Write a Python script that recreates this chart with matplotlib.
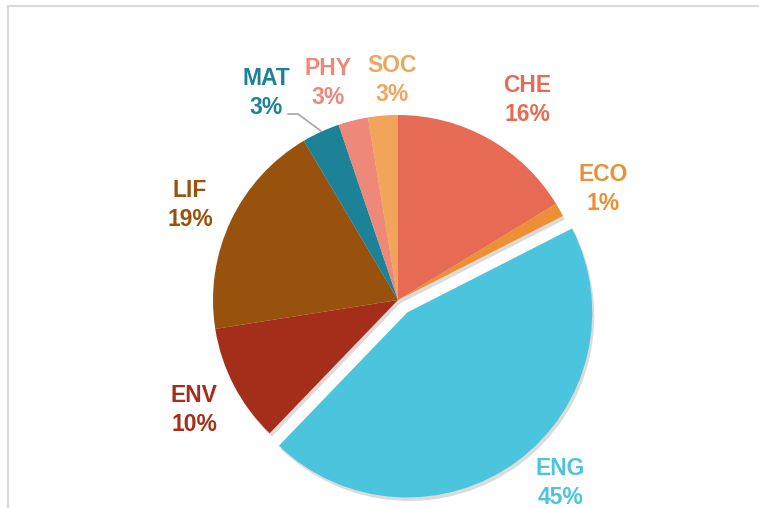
import matplotlib.pyplot as plt
import matplotlib.patheffects as pe
from matplotlib.patches import Wedge
from matplotlib.lines import Line2D

# Share of items per subject area (%)
subjects = ['CHE', 'ECO', 'ENG', 'ENV', 'LIF', 'MAT', 'PHY', 'SOC']
shares = [16.3, 1.2, 44.7, 10.3, 19.0, 3.3, 2.6, 2.6]
colors = ['#E76B54', '#ED8F34', '#4BC5DD', '#A52E1A', '#99520E', '#1C8298', '#EE8878', '#F2A45A']

W, H = 759, 508
fig = plt.figure(figsize=(W / 100, H / 100), dpi=100)
ax = fig.add_axes([0, 0, 1, 1])

cx, cy, r = 398, H - 300, 185
explode = [15.5 if s == 'ENG' else 0 for s in subjects]

wedges, _ = ax.pie(shares, colors=colors, startangle=90, counterclock=False,
                   center=(cx, cy), radius=r, explode=explode, frame=True,
                   wedgeprops=dict(linewidth=0, zorder=2))
ax.set_xlim(0, W)
ax.set_ylim(0, H)
ax.set_aspect('equal')
ax.axis('off')

# soft shadow drawn underneath all wedges
for w in wedges:
    sh = Wedge(w.center, w.r, w.theta1, w.theta2, facecolor='none', edgecolor='none', zorder=1)
    sh.set_path_effects([pe.SimplePatchShadow(offset=(1.5, -2.5), shadow_rgbFace='#7F7F7F', alpha=0.28)])
    ax.add_patch(sh)

# label positions in pixels (x, y from top) - layout only
label_pos = {
    'CHE': (527, 100), 'ECO': (603, 189), 'ENG': (560, 483), 'ENV': (194, 410),
    'LIF': (190, 205), 'MAT': (266, 93), 'PHY': (328, 83), 'SOC': (392, 80),
}
total = sum(shares)
for s, v, c in zip(subjects, shares, colors):
    x, y = label_pos[s]
    ax.text(x, H - y, f'{s}\n{round(v / total * 100):.0f}%', color=c, ha='center', va='center',
            fontsize=16.5, fontweight='bold', family='Liberation Sans', linespacing=1.32)

# leader line for MAT
ax.plot([288, 298, 321], [H - 114, H - 114, H - 131], color='#A6A6A6', lw=1.2)

# chart area border (cut off at right and bottom)
fig.add_artist(Line2D([8 / W, 8 / W], [0, 1 - 6 / H], color='#D9D9D9', lw=1.5, transform=fig.transFigure))
fig.add_artist(Line2D([8 / W, 1], [1 - 6 / H, 1 - 6 / H], color='#D9D9D9', lw=1.5, transform=fig.transFigure))

fig.savefig('out.png', dpi=100)
